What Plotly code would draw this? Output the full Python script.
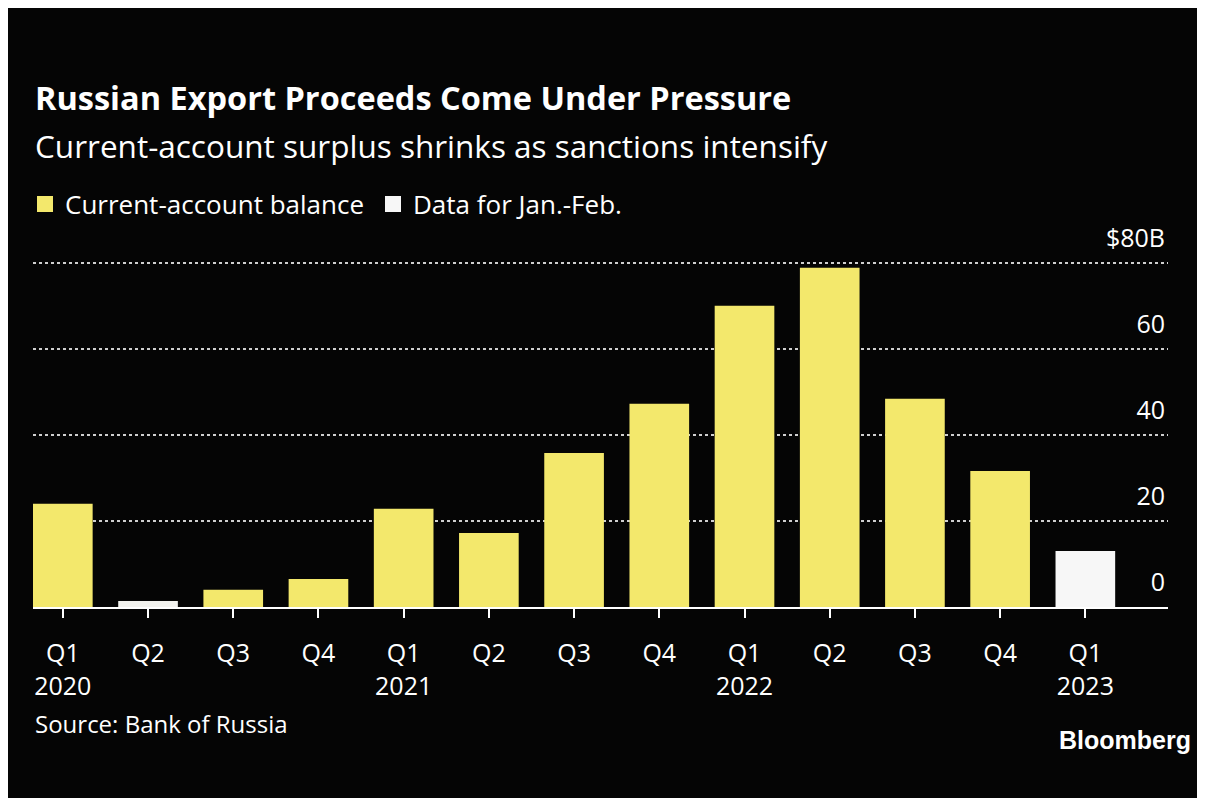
import plotly.graph_objects as go

quarters = ["Q1<br>2020", "Q2", "Q3", "Q4", "Q1<br>2021", "Q2", "Q3", "Q4",
            "Q1<br>2022", "Q2", "Q3", "Q4", "Q1<br>2023"]
balance = [24.0, 1.4, 4.0, 6.5, 22.8, 17.2, 35.8, 47.2, 70.0, 78.8, 48.4, 31.6]
balance_colors = ["#f3e86c", "#f2f2ee", "#f3e86c", "#f3e86c", "#f3e86c", "#f3e86c",
                  "#f3e86c", "#f3e86c", "#f3e86c", "#f3e86c", "#f3e86c", "#f3e86c"]
janfeb = [13.0]
y_ticks = [0, 20, 40, 60, 80]
y_ticktext = ["0", "20", "40", "60", "$80B"]

title_text = "Russian Export Proceeds Come Under Pressure"
subtitle_text = "Current-account surplus shrinks as sanctions intensify"

FONT = "Open Sans"
YELLOW = "#f3e86c"
WHITE_BAR = "#f7f7f7"

# page is offset by the 8px body margin; work in figure coordinates = reference - 8
OFF = 8
W, H = 1205, 798
zero_px = 607 - OFF
top_px = 263 - OFF  # y = 80
ppu = (zero_px - top_px) / 80.0
YMAX = 92
L = 33 - OFF
R = W - (1168 - OFF)
B = H - zero_px
T = int(round(zero_px - YMAX * ppu))
pw = W - L - R
ph = H - T - B


def px(xr):
    return (xr - OFF - L) / pw


def py(yr):
    return (zero_px - (yr - OFF)) / ph


x_bal = list(range(len(balance)))
x_jf = [len(balance)]

fig = go.Figure()
fig.add_trace(go.Bar(x=x_bal, y=balance, name="Current-account balance", showlegend=False,
                     marker=dict(color=balance_colors, line=dict(width=0))))
fig.add_trace(go.Bar(x=x_jf, y=janfeb, name="Data for Jan.-Feb.", showlegend=False,
                     marker=dict(color=WHITE_BAR, line=dict(width=0))))
# legend entries
fig.add_trace(go.Scatter(x=[None], y=[None], mode="markers", name="Current-account balance",
                         marker=dict(symbol="square", size=16, color=YELLOW)))
fig.add_trace(go.Scatter(x=[None], y=[None], mode="markers", name="Data for Jan.-Feb.",
                         marker=dict(symbol="square", size=16, color=WHITE_BAR)))

fig.update_layout(
    width=W, height=H,
    margin=dict(l=L, r=R, t=T, b=B),
    paper_bgcolor="#ffffff",
    plot_bgcolor="rgba(0,0,0,0)",
    bargap=0.3,
    font=dict(family=FONT, color="#ffffff", size=26),
    showlegend=True,
    legend=dict(orientation="h", x=px(25), xanchor="left", y=py(204), yanchor="middle",
                font=dict(size=26, color="#ffffff"), bgcolor="rgba(0,0,0,0)",
                itemclick=False, traceorder="normal", itemwidth=30, entrywidth=303),
    xaxis=dict(
        range=[-0.35, 12.97],
        tickvals=list(range(len(quarters))),
        ticktext=quarters,
        showgrid=False, zeroline=False,
        showline=True, linecolor="#ffffff", linewidth=2,
        ticks="outside", ticklen=9, tickwidth=2, tickcolor="#ffffff",
        ticklabelstandoff=14,
        tickfont=dict(size=25, color="#ffffff", family=FONT),
    ),
    yaxis=dict(
        range=[0, YMAX],
        side="right",
        tickvals=y_ticks, ticktext=y_ticktext,
        ticklabelposition="inside top",
        ticklabelshift=-7,
        showgrid=True, gridcolor="#cfcfcf", griddash="dot", gridwidth=2,
        zeroline=False, showline=False, ticks="",
        tickfont=dict(size=25, color="#ffffff", family=FONT),
    ),
    shapes=[dict(type="rect", xref="paper", yref="paper", layer="below",
                 x0=(-2 - L) / pw, x1=(W - L + 5) / pw,
                 y0=(zero_px - H - 5) / ph, y1=(zero_px + 2) / ph,
                 fillcolor="#050505", line=dict(width=0))],
    annotations=[
        dict(text=f"<b>{title_text}</b>", xref="paper", yref="paper",
             x=px(33), y=py(122), xanchor="left", yanchor="bottom", showarrow=False,
             font=dict(size=32.5, color="#ffffff", family=FONT)),
        dict(text=subtitle_text, xref="paper", yref="paper",
             x=px(33), y=py(122), xanchor="left", yanchor="top", showarrow=False,
             font=dict(size=31.5, color="#ffffff", family=FONT)),
        dict(text="Source: Bank of Russia", xref="paper", yref="paper",
             x=px(33), y=py(723), xanchor="left", yanchor="middle", showarrow=False,
             font=dict(size=24, color="#ffffff", family=FONT)),
        dict(text="<b>Bloomberg</b>", xref="paper", yref="paper",
             x=px(1193), y=py(740), xanchor="right", yanchor="middle", showarrow=False,
             font=dict(size=25, color="#ffffff", family="Liberation Sans")),
    ],
)

fig.write_html("out.html")
